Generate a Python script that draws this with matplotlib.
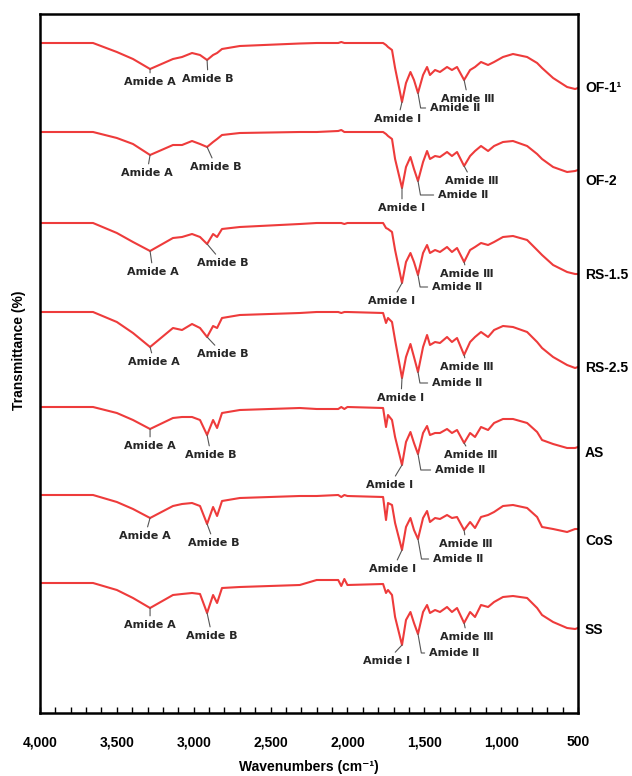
import matplotlib
matplotlib.use("Agg")
import matplotlib.pyplot as plt
from matplotlib.ticker import MultipleLocator, FuncFormatter

# FTIR spectra of the seven samples
samples = ["OF-1\u00b9", "OF-2", "RS-1.5", "RS-2.5", "AS", "CoS", "SS"]

wavenumber = [4000, 3655, 3500, 3395, 3284, 3135, 3076, 3011, 2959, 2913,
              2874, 2848, 2816, 2700, 2310, 2200, 2060, 2040, 2020, 2000,
              1768, 1749, 1736, 1710, 1690, 1645, 1619, 1590, 1567, 1541,
              1508, 1482, 1463, 1430, 1398, 1352, 1320, 1287, 1241, 1202,
              1170, 1131, 1085, 1046, 988, 923, 831, 766, 734, 662,
              571, 519, 500]

t_of1 = [100, 100, 91, 84, 74, 84, 86, 90, 88, 83, 88, 90, 94, 97, 99.5, 100, 100, 101, 100, 100,
         100, 98, 96, 93, 75, 41, 60, 71, 63, 50, 68, 76, 68, 73, 71, 76, 73, 76, 63, 73,
         76, 81, 78, 81, 86, 89, 86, 80, 75, 65, 56, 54, 55]
t_of2 = [100, 100, 94, 88, 77, 87, 87, 91, 88, 85, 90, 93, 97, 99, 100, 100, 101, 102, 100, 100,
         100, 98, 96, 93, 73, 44, 65, 75, 63, 51, 70, 81, 73, 76, 75, 80, 76, 80, 66, 76,
         81, 86, 81, 86, 90, 91, 86, 78, 73, 65, 60, 61, 62]
t_rs15 = [100, 100, 90, 81, 72, 85, 86, 89, 86, 79, 89, 86, 94, 96, 99, 100, 100, 100, 99, 100,
          100, 95, 94, 91, 73, 40, 61, 70, 61, 48, 70, 78, 70, 73, 71, 76, 71, 75, 61, 73,
          76, 80, 78, 81, 86, 87, 83, 73, 68, 58, 51, 49, 49]
t_rs25 = [100, 100, 90, 79, 65, 84, 82, 88, 84, 75, 86, 84, 94, 97, 99, 100, 100, 99, 100, 100,
          99, 89, 94, 90, 72, 34, 55, 68, 55, 40, 65, 77, 67, 70, 69, 75, 70, 74, 57, 70,
          75, 80, 75, 82, 86, 85, 80, 70, 64, 55, 47, 44, 45]
t_as = [100, 100, 94, 87, 78, 89, 90, 90, 87, 72, 87, 79, 94, 97, 99, 98, 98, 100, 98, 100,
        99, 80, 92, 87, 70, 42, 65, 75, 64, 53, 74, 81, 72, 74, 74, 78, 74, 77, 64, 74,
        70, 80, 77, 84, 88, 88, 84, 75, 67, 63, 59, 59, 60]
t_cos = [100, 100, 93, 86, 77, 89, 91, 92, 89, 71, 88, 79, 94, 97, 99, 99, 100, 98, 100, 99,
         98, 75, 92, 90, 72, 45, 68, 77, 65, 56, 77, 84, 73, 77, 76, 80, 77, 78, 65, 73,
         67, 78, 80, 83, 89, 90, 87, 78, 68, 66, 63, 66, 66]
t_ss = [100, 100, 93, 85, 75, 88, 89, 90, 89, 70, 88, 80, 95, 96, 98, 103, 103, 97, 104, 98,
        99, 90, 93, 88, 66, 38, 63, 71, 60, 49, 71, 78, 70, 73, 71, 76, 71, 75, 60, 71,
        66, 78, 76, 81, 86, 87, 85, 75, 68, 61, 55, 54, 55]

spectra = [t_of1, t_of2, t_rs15, t_rs25, t_as, t_cos, t_ss]

band_names = ["Amide A", "Amide B", "Amide \u2160", "Amide \u2161", "Amide \u2162"]
band_wn = [3284, 2913, 1645, 1541, 1241]

# layout: vertical stacking offset of each trace and label offsets (pixels)
stack = [0, 89, 180, 269, 364, 452, 540]
name_nudge = [0, 11, 1, 1, 6, 12, 2]
label_off = [
    [(0, 13), (1, 19), (-4, 17), (37, 15), (4, 19)],
    [(-3, 18), (9, 20), (0, 20), (45, 14), (8, 15)],
    [(3, 21), (16, 19), (-10, 18), (39, 12), (3, 12)],
    [(4, 15), (16, 17), (-1, 20), (39, 11), (3, 12)],
    [(0, 17), (4, 20), (-12, 20), (42, 16), (7, 12)],
    [(-5, 18), (7, 19), (-9, 19), (40, 20), (2, 14)],
    [(0, 17), (5, 23), (-15, 16), (36, 19), (3, 14)],
]

line_color = "#EE3B3B"
sans = ["Liberation Sans", "DejaVu Sans"]

fig = plt.figure(figsize=(6.32, 7.76), dpi=100)
ax = fig.add_axes([40 / 632, 63 / 776, 538 / 632, 699 / 776])

for i, (name, t) in enumerate(zip(samples, spectra)):
    y = [v - stack[i] for v in t]
    ax.plot(wavenumber, y, color=line_color, lw=1.5)

    for j, (bname, bwn) in enumerate(zip(band_names, band_wn)):
        k = wavenumber.index(bwn)
        dx, dy = label_off[i][j]
        if j == 3:
            conn = "angle,angleA=0,angleB=100,rad=0"
            rel = (0, 0.5)
        else:
            conn = "arc3"
            rel = (0.5, 0.5)
        ax.annotate(bname, xy=(bwn, y[k]), xytext=(dx * 0.72, -dy * 0.72),
                    textcoords="offset points", ha="center", va="center",
                    fontsize=8, fontweight="bold", color="#262626",
                    family="DejaVu Sans",
                    arrowprops=dict(arrowstyle="-", color="#555555", lw=0.8,
                                    shrinkA=1, shrinkB=0, relpos=rel,
                                    connectionstyle=conn))

    ax.text(1.013, y[-1] - name_nudge[i], name,
            transform=ax.get_yaxis_transform(), ha="left", va="center",
            fontsize=10, fontweight="bold", family=sans)

ax.set_xlim(4000, 500)
ax.set_ylim(-570, 129)
ax.set_yticks([])
ax.xaxis.set_major_locator(MultipleLocator(500))
ax.xaxis.set_minor_locator(MultipleLocator(100))
ax.xaxis.set_major_formatter(FuncFormatter(lambda v, p: f"{int(v):,}"))
ax.tick_params(axis="x", which="both", direction="in", length=4, width=1, pad=16)
for lab in ax.get_xticklabels():
    lab.set_fontsize(10)
    lab.set_fontweight("bold")
    lab.set_family(sans)
for sp in ax.spines.values():
    sp.set_linewidth(1.8)

fig.text(309 / 632, 1 - 767 / 776, "Wavenumbers (cm\u207b\u00b9)", ha="center", va="center",
         fontsize=10, fontweight="bold", family=sans)
fig.text(19 / 632, 1 - 350 / 776, "Transmittance (%)", rotation=90, ha="center", va="center",
         fontsize=10, fontweight="bold", family=sans)

fig.savefig("out.png", dpi=100)
